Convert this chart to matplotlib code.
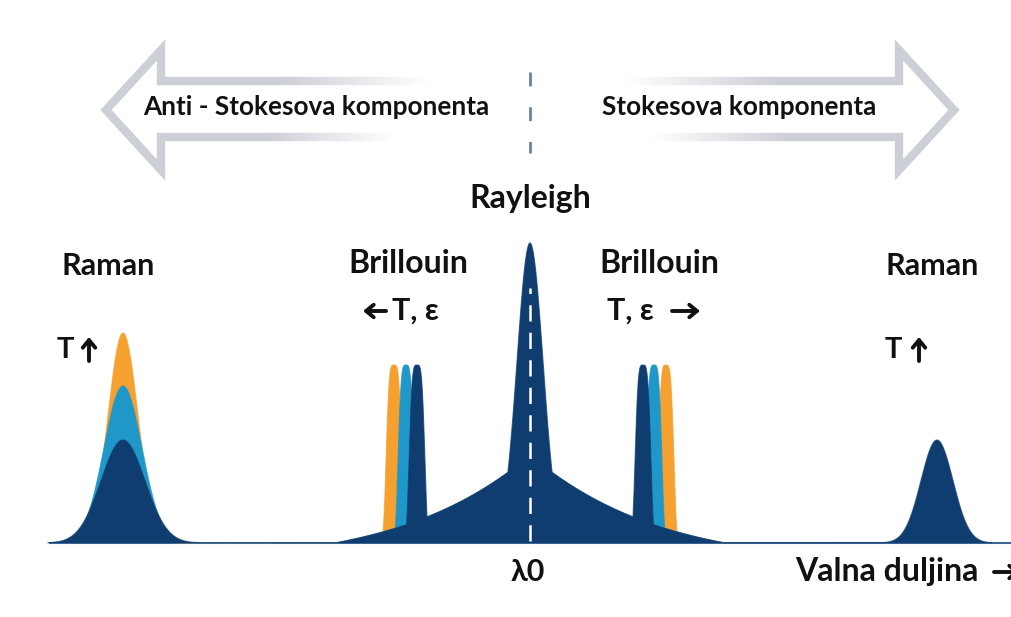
import numpy as np
import matplotlib.pyplot as plt
from matplotlib.collections import LineCollection
from matplotlib.colors import to_rgba

plt.rcParams['font.family'] = ['Lato', 'DejaVu Sans']

NAVY = '#0f3d70'
BLUE = '#1f97c9'
ORANGE = '#f6a02f'
ARROW = '#cdcfd6'
TXT = '#111111'

# spectrum (x = wavelength in px-like units, y = intensity above baseline)
lambda0 = 530
rayleigh_height = 300
rayleigh_width = 13
pedestal_height = 88
pedestal_decay = 220
pedestal_cutoff = 195

# Brillouin shifts from lambda0 for the three temperature states
brillouin_shift = {'navy': 113, 'blue': 124, 'orange': 136}
brillouin_height = 178
brillouin_width = 8.5

# Raman: anti-Stokes (left) shows three states, Stokes (right) one
raman_anti = 123
raman_stokes = 937
raman_anti_heights = {'navy': 103, 'blue': 157, 'orange': 210}
raman_anti_widths = {'navy': 22, 'blue': 19, 'orange': 15}
raman_stokes_height = 103
raman_stokes_width = 16

BASE = 543  # pixel row of the baseline


def gauss(x, c, h, w):
    return h * np.exp(-0.5 * ((x - c) / w) ** 2)


def flat(x, c, h, w):
    return h * np.exp(-((x - c) / w) ** 4)


x = np.linspace(0, 1012, 5000)
dx = np.abs(x - lambda0)
pedestal = pedestal_height * np.exp(-dx / pedestal_decay) * np.clip(1 - dx / pedestal_cutoff, 0, 1)


def curve(state):
    s = brillouin_shift[state]
    y = np.maximum(pedestal, flat(x, lambda0 - s, brillouin_height, brillouin_width))
    y = np.maximum(y, flat(x, lambda0 + s, brillouin_height, brillouin_width))
    y = y + gauss(x, raman_anti, raman_anti_heights[state], raman_anti_widths[state])
    if state == 'navy':
        y = np.maximum(y, gauss(x, lambda0, rayleigh_height, rayleigh_width))
        y = y + gauss(x, raman_stokes, raman_stokes_height, raman_stokes_width)
    return y


fig = plt.figure(figsize=(10.12, 6.17), dpi=100)
ax = fig.add_axes([0, 0, 1, 1])
ax.set_xlim(0, 1012)
ax.set_ylim(BASE - 617, BASE)
ax.axis('off')

# baseline
ax.plot([50, 1012], [0, 0], color='#3d6592', lw=1.5, zorder=1)

for state, col, z in [('orange', ORANGE, 2), ('blue', BLUE, 3), ('navy', NAVY, 4)]:
    y = curve(state)
    ax.fill_between(x, 0, y, where=y > 0.3, color=col, lw=0, zorder=z)
    ax.plot(x[y > 0.3], y[y > 0.3], color=col, lw=0.8, alpha=0.7, zorder=z)

# lambda0 dashed marker
ax.plot([lambda0, lambda0], [BASE - 72, BASE - 153], color='#6b83a4', lw=2,
        linestyle=(0, (5, 7.5)), solid_capstyle='butt', zorder=5)
ax.plot([lambda0, lambda0], [2, rayleigh_height - 45], color='white', lw=1.8,
        linestyle=(0, (6.5, 4.5)), zorder=6)


def fade(x0, x1, yy, lw):
    xs = np.linspace(x0, x1, 120)
    t = np.linspace(0, 1, 119)
    alphas = np.clip(1.7 * (1 - t), 0, 1)
    segs = [[(xs[i], yy), (xs[i + 1], yy)] for i in range(119)]
    lc = LineCollection(segs, colors=[to_rgba(ARROW, a) for a in alphas],
                        linewidths=lw, capstyle='butt', zorder=1)
    ax.add_collection(lc)


def big_arrow(head_x, tip_x, top_end, bot_end):
    d = np.sign(head_x - tip_x)
    px = [head_x + 14 * d, head_x, head_x, tip_x, head_x, head_x, head_x + 14 * d]
    py = [81, 81, 50, 110, 170, 137, 137]
    ax.plot(px, [BASE - v for v in py], color=ARROW, lw=6,
            solid_joinstyle='miter', solid_capstyle='butt', zorder=1)
    fade(head_x + 14 * d, top_end, BASE - 81, 6)
    fade(head_x + 14 * d, bot_end, BASE - 137, 6)


big_arrow(161, 106, 430, 395)
big_arrow(899, 954, 625, 650)


def label(s, xc, py, size, ha='center'):
    ax.text(xc, BASE - py, s, ha=ha, va='baseline', fontsize=size,
            fontweight='bold', color=TXT, zorder=7)


def small_arrow(x0, py0, x1, py1):
    ax.annotate('', xy=(x1, BASE - py1), xytext=(x0, BASE - py0),
                arrowprops=dict(arrowstyle='->, head_length=0.55, head_width=0.45',
                                lw=2.8, color=TXT, shrinkA=0, shrinkB=0),
                zorder=7, annotation_clip=False)


label('Anti - Stokesova komponenta', 316, 115, 18.8)
label('Stokesova komponenta', 739, 115, 18.8)
label('Rayleigh', lambda0, 208, 23)
label('Raman', 108, 275, 22)
label('Raman', 932, 275, 22)
label('Brillouin', 408, 273, 23)
label('Brillouin', 659, 273, 23)
label('T, \u03b5', 392, 320, 22, ha='left')
label('T, \u03b5', 607, 320, 22, ha='left')
label('T', 57, 358, 21, ha='left')
label('T', 885, 358, 21, ha='left')
label('\u03bb0', 528, 581, 22)
label('Valna duljina', 795, 581, 23, ha='left')

small_arrow(386, 311, 363, 311)
small_arrow(672, 311, 700, 311)
small_arrow(89, 361, 89, 337)
small_arrow(919, 361, 919, 337)
small_arrow(994, 572, 1020, 572)

fig.savefig('out.png', dpi=100, facecolor='white')
